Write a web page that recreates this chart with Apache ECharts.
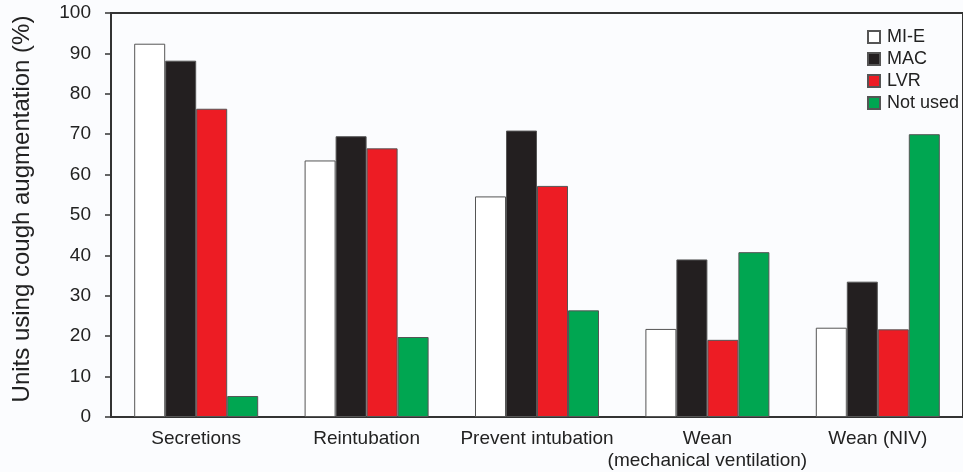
<!DOCTYPE html>
<html><head><meta charset="utf-8">
<script src="https://cdn.jsdelivr.net/npm/echarts@6/dist/echarts.min.js"></script>
<style>html,body{margin:0;padding:0;background:#fbfcfe}#c{width:963px;height:472px}</style>
</head><body><div id="c"></div>
<script>
const categories = ['Secretions','Reintubation','Prevent intubation','Wean\n(mechanical ventilation)','Wean (NIV)'];
const seriesNames = ['MI-E','MAC','LVR','Not used'];
const mie = [92.4, 63.5, 54.6, 21.8, 22.1];
const mac = [88.2, 69.5, 70.9, 39.0, 33.5];
const lvr = [76.3, 66.5, 57.2, 19.1, 21.7];
const notUsed = [5.2, 19.8, 26.4, 40.8, 70.0];
const yTicks = [0,10,20,30,40,50,60,70,80,90,100];
const colors = ['#ffffff','#231f20','#ed1c24','#00a651'];
const values = [mie, mac, lvr, notUsed];

const chart = echarts.init(document.getElementById('c'), null, {renderer:'canvas'});
const font = 'Liberation Sans, Arial, Helvetica, sans-serif';
chart.setOption({
  backgroundColor: '#fbfcfe',
  animation: false,
  grid: {left: 111, top: 13, width: 864, height: 404, show: true, borderColor: '#333', borderWidth: 2, backgroundColor: 'transparent'},
  legend: {
    orient: 'vertical', left: 862, top: 23, itemWidth: 12, itemHeight: 12, itemGap: 4, icon: 'rect',
    data: seriesNames,
    textStyle: {fontFamily: font, fontSize: 18, color: '#222', lineHeight: 18, padding: [0,0,0,2]}
  },
  xAxis: {
    type: 'category', data: categories,
    axisLine: {lineStyle: {color: '#333', width: 2}},
    axisTick: {show: false},
    axisLabel: {fontFamily: font, fontSize: 19, color: '#222', margin: 11, lineHeight: 22, interval: 0}
  },
  yAxis: {
    type: 'value', min: 0, max: 100, interval: 10,
    name: 'Units using cough augmentation (%)', nameLocation: 'middle', nameGap: 77,
    nameTextStyle: {fontFamily: font, fontSize: 24, color: '#222', padding: [0,0,0,12]},
    axisLine: {show: true, lineStyle: {color: '#333', width: 2}},
    axisTick: {show: true, length: 6, lineStyle: {color: '#333', width: 1.5}},
    splitLine: {show: false},
    axisLabel: {fontFamily: font, fontSize: 19, color: '#222', margin: 20,
      formatter: v => yTicks.includes(v) ? String(v) : ''}
  },
  series: values.map((d, i) => ({
    name: seriesNames[i], type: 'bar', data: d, barWidth: 31, barGap: '0%',
    itemStyle: {color: colors[i], borderColor: '#555', borderWidth: 1}
  }))
});
</script></body></html>
